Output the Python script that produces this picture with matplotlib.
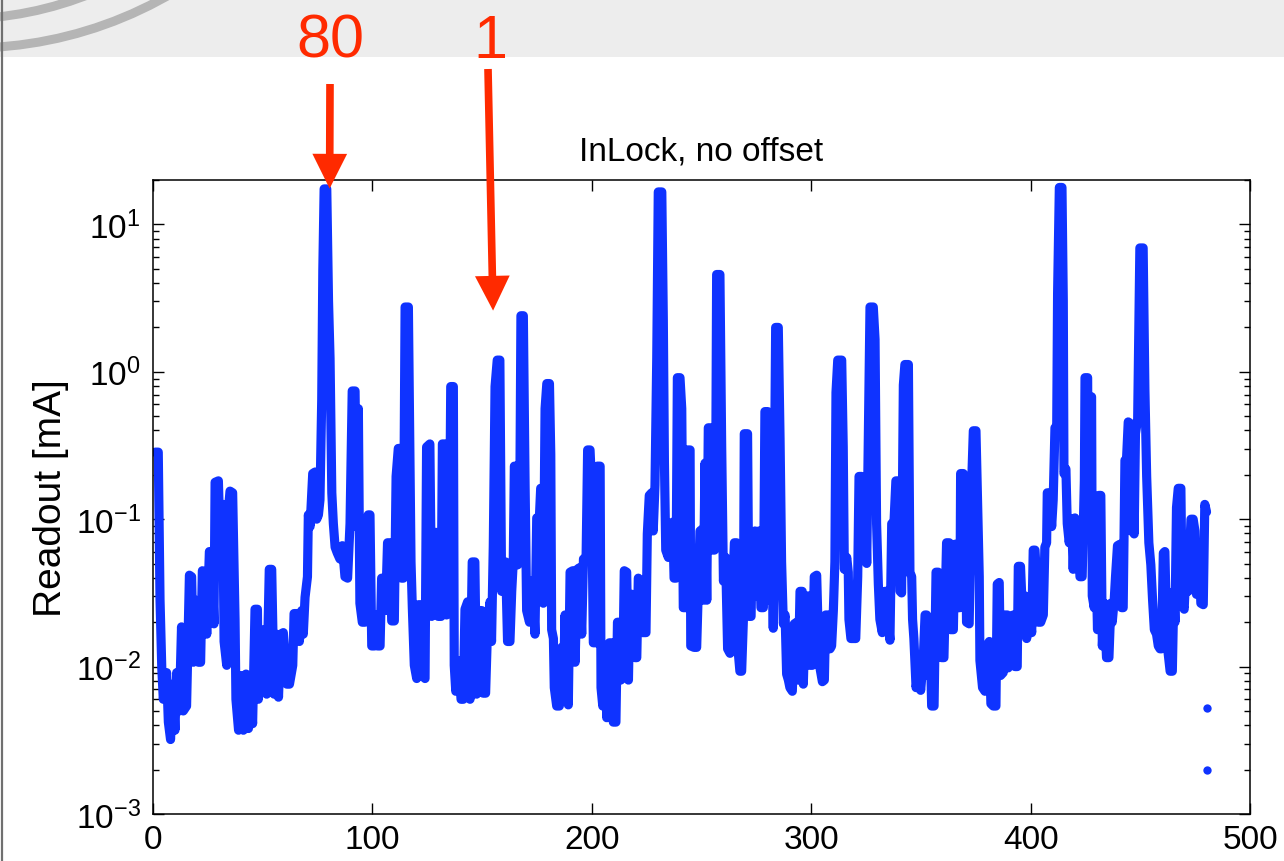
import numpy as np
import matplotlib
matplotlib.use('Agg')
import matplotlib.pyplot as plt
from matplotlib.patches import Circle

plt.rcParams['font.family'] = ['Liberation Sans', 'DejaVu Sans']
plt.rcParams['mathtext.fontset'] = 'custom'
plt.rcParams['mathtext.rm'] = 'Liberation Sans'
plt.rcParams['mathtext.default'] = 'regular'

# readout trace, (bin, readout in mA), split in chunks
trace_a = [(1.0, 0.285), (2.4, 0.285), (3.2, 0.0285), (4.0, 0.0098), (4.7, 0.0060), (6.2, 0.0091),
           (7.0, 0.0042), (8.0, 0.0032), (9.0, 0.0076), (10.0, 0.0037), (10.8, 0.0091), (12.0, 0.0050),
           (13.0, 0.0186), (13.8, 0.0050), (15.3, 0.0054), (16.6, 0.0417), (17.6, 0.0407), (18.4, 0.0107),
           (19.6, 0.0282), (20.7, 0.0107), (21.7, 0.0107), (22.5, 0.0447), (23.4, 0.0437), (24.5, 0.0166),
           (25.7, 0.0603), (26.7, 0.0603), (27.8, 0.0195), (28.3, 0.178), (29.8, 0.182), (30.5, 0.0759),
           (31.8, 0.126), (32.4, 0.0148), (33.6, 0.0102), (34.3, 0.112), (35.1, 0.155), (36.3, 0.151),
           (37.4, 0.0209), (37.8, 0.0060), (39.0, 0.0037), (40.0, 0.0087), (41.2, 0.0037), (42.4, 0.0089),
           (43.5, 0.0038), (44.2, 0.0074), (45.4, 0.0041), (46.5, 0.0245), (47.6, 0.0245), (48.0, 0.0060),
           (49.2, 0.0178), (50.3, 0.0072), (51.0, 0.0178), (51.8, 0.0065), (53.0, 0.0457), (54.1, 0.0457),
           (55.2, 0.0065), (56.1, 0.0166), (57.2, 0.0062), (58.2, 0.0166), (59.4, 0.0170), (61.0, 0.0076),
           (62.2, 0.0076), (63.7, 0.0102), (64.3, 0.0229), (65.8, 0.0229), (66.7, 0.0148), (67.8, 0.0240),
           (68.5, 0.0166), (69.3, 0.0295), (70.4, 0.0407), (70.8, 0.107), (71.6, 0.0891), (72.8, 0.204),
           (73.9, 0.209), (74.6, 0.100), (75.4, 0.107), (76.1, 0.135), (76.9, 0.646), (77.4, 4.90),
           (78.0, 17.4), (79.2, 17.4), (80.0, 3.02), (80.7, 1.23), (81.5, 0.151), (82.2, 0.0933),
           (83.0, 0.0646), (84.0, 0.0589)]

trace_b = [(85.2, 0.0537), (86.3, 0.0661), (87.5, 0.0407), (88.7, 0.0398), (89.8, 0.0933), (90.8, 0.741),
           (92.1, 0.741), (92.8, 0.0891), (93.6, 0.562), (94.3, 0.0269), (95.4, 0.0200), (96.6, 0.0200),
           (98.1, 0.107), (98.9, 0.107), (99.7, 0.0138), (100.9, 0.0138), (101.5, 0.0224), (102.4, 0.0138),
           (103.5, 0.0138), (104.2, 0.0398), (105.4, 0.0398), (106.0, 0.0240), (106.9, 0.0692), (108.0, 0.0692),
           (108.8, 0.0204), (110.0, 0.0204), (110.8, 0.195), (111.8, 0.302), (112.6, 0.302), (113.3, 0.0398),
           (114.1, 0.0398), (114.9, 2.75), (116.4, 2.75), (117.6, 0.0513), (118.2, 0.0251), (119.1, 0.0102),
           (120.2, 0.0083), (121.0, 0.0263), (122.1, 0.0263), (122.8, 0.0087), (124.0, 0.0083), (124.7, 0.309),
           (126.2, 0.324), (127.0, 0.0219), (127.8, 0.0813), (129.3, 0.0813), (130.0, 0.0219), (131.3, 0.0219),
           (131.9, 0.324), (133.1, 0.324), (133.8, 0.0224), (134.9, 0.0234), (135.7, 0.794), (136.9, 0.794),
           (137.3, 0.0102), (138.0, 0.0068), (139.2, 0.0110), (140.4, 0.0060), (141.4, 0.0060), (142.2, 0.0245),
           (143.4, 0.0275), (144.5, 0.0060), (145.5, 0.0513), (146.7, 0.0513), (147.5, 0.0065), (148.6, 0.0240),
           (149.8, 0.0240), (150.5, 0.0066), (151.6, 0.0066), (152.5, 0.0186), (153.6, 0.0275), (154.3, 0.0148),
           (155.1, 0.0661), (155.9, 0.794), (156.9, 1.20), (158.1, 1.20), (158.9, 0.0324), (159.7, 0.0513),
           (160.7, 0.0513), (161.6, 0.0148), (162.7, 0.0148), (163.5, 0.0324), (164.2, 0.0513), (164.7, 0.229),
           (165.4, 0.229), (166.2, 0.0490), (167.0, 0.0513), (167.7, 2.40), (168.8, 2.40)]

trace_c = [(169.6, 0.170), (170.3, 0.0240), (171.6, 0.0200), (172.6, 0.0380), (173.4, 0.0282), (174.1, 0.0166),
           (174.9, 0.102), (176.1, 0.102), (176.7, 0.162), (177.6, 0.162), (177.9, 0.0269), (178.7, 0.562),
           (179.5, 0.832), (180.7, 0.832), (181.3, 0.275), (181.7, 0.0178), (182.5, 0.0155), (182.9, 0.0072),
           (184.0, 0.0054), (185.2, 0.0054), (186.3, 0.0135), (187.0, 0.0068), (187.8, 0.0224), (188.6, 0.0068),
           (189.3, 0.0055), (190.1, 0.0437), (191.3, 0.0447), (192.4, 0.0107), (193.4, 0.0457), (194.3, 0.0468),
           (195.4, 0.0166), (196.2, 0.0537), (197.4, 0.0550), (198.1, 0.295), (199.2, 0.295), (199.9, 0.170),
           (200.7, 0.0145), (201.9, 0.0145), (202.5, 0.229), (203.8, 0.229), (204.2, 0.0072), (205.0, 0.0054),
           (206.0, 0.0138), (206.8, 0.0045), (208.0, 0.0145), (209.1, 0.0145), (209.8, 0.0042), (211.0, 0.0042),
           (211.7, 0.0200), (212.6, 0.0200), (213.2, 0.0081), (214.1, 0.0087), (214.8, 0.0447), (215.9, 0.0437),
           (216.7, 0.0081), (217.4, 0.0309), (218.6, 0.0309), (219.7, 0.0115), (220.5, 0.0115), (221.2, 0.0398),
           (222.4, 0.0380), (223.1, 0.0170), (224.7, 0.0170), (225.3, 0.0794), (226.2, 0.145), (227.3, 0.151),
           (228.0, 0.0832), (228.8, 0.170), (229.6, 1.23), (230.3, 16.6), (231.9, 16.6), (232.6, 2.24),
           (233.1, 0.245), (233.7, 0.0617), (234.9, 0.0550), (236.0, 0.0933), (236.9, 0.0955), (237.5, 0.0398),
           (238.4, 0.0398), (239.0, 0.912), (240.2, 0.912), (241.0, 0.562), (241.7, 0.0251), (242.8, 0.0251),
           (243.2, 0.295), (244.8, 0.295), (245.1, 0.0138), (246.6, 0.0135), (247.8, 0.0135), (248.6, 0.0363),
           (249.3, 0.0832), (250.2, 0.0851), (250.8, 0.0282), (251.6, 0.240), (252.4, 0.0282), (253.1, 0.417)]

trace_d = [(254.3, 0.417), (255.0, 0.0617), (255.9, 0.0617), (256.5, 0.229), (256.9, 4.57), (258.4, 4.57),
           (259.2, 0.309), (260.0, 0.0380), (261.0, 0.0550), (261.9, 0.0132), (263.0, 0.0123), (263.8, 0.0240),
           (265.0, 0.0692), (266.0, 0.0692), (266.8, 0.0123), (267.5, 0.0093), (268.3, 0.0093), (269.1, 0.0209),
           (269.5, 0.380), (271.0, 0.380), (271.6, 0.0219), (272.6, 0.0219), (273.2, 0.0813), (274.4, 0.0832),
           (275.1, 0.0302), (276.2, 0.0832), (277.1, 0.0251), (278.2, 0.0251), (278.9, 0.537), (280.2, 0.537),
           (280.8, 0.0282), (281.7, 0.269), (282.7, 0.0182), (283.8, 2.00), (285.0, 2.00), (285.8, 0.355),
           (286.5, 0.0513), (287.3, 0.0195), (288.1, 0.0224), (288.8, 0.0089), (289.6, 0.0081), (290.3, 0.0072),
           (291.4, 0.0068), (292.3, 0.0195), (293.4, 0.0200), (294.1, 0.0081), (294.9, 0.0324), (295.9, 0.0324),
           (296.4, 0.0076), (297.5, 0.0282), (298.7, 0.0302), (299.4, 0.0102), (300.5, 0.0102), (301.4, 0.0407),
           (302.5, 0.0417), (303.2, 0.0166), (304.0, 0.0098), (305.1, 0.0079), (306.0, 0.0081), (306.6, 0.0224),
           (307.8, 0.0224), (308.6, 0.0132), (309.3, 0.0138), (310.1, 0.0240), (310.8, 0.0513), (311.3, 0.724),
           (312.1, 1.20), (313.9, 1.20), (314.6, 0.309), (315.1, 0.0457), (316.2, 0.0550), (316.9, 0.0437),
           (317.2, 0.0209), (318.1, 0.0155), (319.2, 0.0155), (320.3, 0.0155), (321.2, 0.0407), (321.8, 0.195),
           (323.0, 0.195), (323.8, 0.0933), (324.5, 0.166), (325.3, 0.0501), (326.0, 0.309), (326.8, 2.75),
           (328.3, 2.75), (329.1, 1.66), (329.8, 0.0933), (330.6, 0.0363), (331.3, 0.0209), (332.4, 0.0170),
           (333.6, 0.0324), (334.4, 0.0324), (335.1, 0.0200), (335.9, 0.0151)]

trace_e = [(336.7, 0.0933), (337.7, 0.0933), (338.6, 0.182), (339.7, 0.182), (340.5, 0.0324), (341.2, 0.0316),
           (342.0, 0.813), (342.7, 1.12), (344.3, 1.12), (345.0, 0.0437), (345.8, 0.0407), (346.2, 0.0209),
           (346.8, 0.0155), (347.8, 0.0072), (348.8, 0.0091), (349.9, 0.0069), (351.1, 0.0115), (351.9, 0.0224),
           (352.6, 0.0224), (353.4, 0.0087), (354.1, 0.0182), (354.9, 0.0054), (356.0, 0.0054), (356.9, 0.0437),
           (357.9, 0.0437), (358.7, 0.0324), (359.4, 0.0115), (360.5, 0.0115), (361.7, 0.0692), (362.9, 0.0692),
           (363.5, 0.0178), (364.8, 0.0178), (365.5, 0.0676), (366.6, 0.0676), (367.0, 0.0251), (367.8, 0.0251),
           (368.1, 0.204), (369.3, 0.204), (370.1, 0.170), (370.8, 0.0200), (372.0, 0.0195), (373.1, 0.170),
           (373.9, 0.398), (375.1, 0.398), (375.7, 0.162), (376.6, 0.0407), (376.9, 0.0110), (378.1, 0.0072),
           (379.2, 0.0068), (379.9, 0.0138), (381.2, 0.0148), (381.9, 0.0056), (383.0, 0.0054), (384.2, 0.0054),
           (384.8, 0.0363), (385.7, 0.0372), (386.3, 0.0087), (387.5, 0.0091), (388.3, 0.0224), (389.4, 0.0224),
           (389.8, 0.0098), (390.9, 0.0209), (392.1, 0.0224), (392.9, 0.0100), (393.9, 0.0100), (394.4, 0.0479),
           (395.4, 0.0479), (396.4, 0.0209), (397.4, 0.0302), (398.2, 0.0155), (399.4, 0.0251), (400.5, 0.0170),
           (401.2, 0.0617), (402.0, 0.0617), (402.7, 0.0398), (403.5, 0.0200), (404.6, 0.0200), (405.8, 0.0224),
           (406.5, 0.0646), (407.3, 0.0692), (407.6, 0.151), (408.8, 0.151), (409.6, 0.0891), (410.3, 0.135),
           (411.1, 0.417), (411.9, 0.417), (412.3, 3.39), (413.1, 17.8), (414.3, 17.8), (414.9, 3.02),
           (415.2, 0.204), (416.1, 0.219), (416.7, 0.0933), (417.6, 0.0692), (418.7, 0.100), (419.4, 0.0457),
           (420.2, 0.102)]

trace_f = [(421.0, 0.0490), (421.7, 0.0832), (422.5, 0.0407), (423.5, 0.0407), (424.5, 0.182), (424.8, 0.912),
           (426.0, 0.912), (426.3, 0.0741), (427.0, 0.676), (427.8, 0.676), (428.1, 0.0302), (429.0, 0.0251),
           (429.6, 0.0661), (430.5, 0.0178), (431.1, 0.145), (432.0, 0.145), (432.7, 0.0138), (433.6, 0.0269),
           (434.6, 0.0115), (435.7, 0.0115), (436.6, 0.0269), (437.2, 0.0200), (438.1, 0.0282), (438.7, 0.0407),
           (439.6, 0.0661), (440.7, 0.0676), (441.5, 0.0251), (442.2, 0.0251), (443.0, 0.251), (443.7, 0.251),
           (444.5, 0.457), (445.3, 0.447), (445.7, 0.0832), (446.3, 0.398), (447.2, 0.0794), (447.8, 0.380),
           (448.8, 0.479), (449.8, 6.92), (451.3, 6.92), (452.1, 0.759), (452.9, 0.195), (453.9, 0.0692),
           (454.8, 0.0490), (455.6, 0.0282), (456.4, 0.0178), (457.4, 0.0166), (458.2, 0.0138), (459.0, 0.0132),
           (459.7, 0.0132), (460.5, 0.0589), (461.2, 0.0603), (462.0, 0.0178), (462.7, 0.0123), (463.6, 0.0093),
           (464.6, 0.0093), (465.3, 0.0324), (465.8, 0.0200), (466.5, 0.120), (467.3, 0.162), (468.5, 0.162),
           (469.1, 0.0269), (470.0, 0.0245), (471.1, 0.0589), (471.8, 0.0324), (473.1, 0.100), (474.1, 0.100),
           (474.9, 0.0832), (475.6, 0.0309), (476.7, 0.0617), (477.6, 0.0269), (478.7, 0.0263), (479.4, 0.126),
           (480.2, 0.112)]

# two lone samples below the trace at the last bin
lone_x = [480.2, 480.2]
lone_y = [0.0052, 0.0020]

labels_top = ['80', '1']

blue = '#0f33ff'
red = '#ff2a00'

trace = trace_a + trace_b + trace_c + trace_d + trace_e + trace_f
xs = np.array([p[0] for p in trace])
ys = np.array([p[1] for p in trace])

W, H = 1284, 862
fig = plt.figure(figsize=(W / 100, H / 100), dpi=100)

# slide background: grey header band, swoosh, left edge line
bg = fig.add_axes([0, 0, 1, 1], zorder=-5)
bg.set_xlim(0, W)
bg.set_ylim(H, 0)
bg.axis('off')
bg.axhspan(0, 58, color='#ededed', lw=0)
bg.add_patch(Circle((-30, -351), 400, fill=False, ec='#b5b5b5', lw=6.5))
bg.add_patch(Circle((-40, -330), 350, fill=False, ec='#b5b5b5', lw=6.5))
bg.axvline(1.5, color='#707070', lw=1.6)

ax = fig.add_axes([153 / W, 1 - 815 / H, (1250 - 153) / W, (815 - 181) / H])
ax.plot(xs, ys, color=blue, lw=6.6, solid_capstyle='round', solid_joinstyle='round')
ax.plot(lone_x, lone_y, 'o', color=blue, ms=6, mec='none')
ax.set_yscale('log')
ax.set_xlim(0, 500)
ax.set_ylim(1e-3, 20)
ax.set_xticks(np.arange(0, 501, 100))
ax.tick_params(which='both', direction='in', top=True, right=True, labelsize=24, width=1.0)
ax.tick_params(which='major', length=8)
ax.tick_params(which='minor', length=4.5)
ax.tick_params(axis='x', pad=7)
ax.tick_params(axis='y', pad=9)
for s in ax.spines.values():
    s.set_linewidth(1.1)
ax.set_title('InLock, no offset', fontsize=24, pad=15)
ax.set_ylabel('Readout [mA]', fontsize=28, labelpad=5)

# red markers pointing at the two peaks
ax.annotate('', xy=(80.5, 17.5), xycoords='data', xytext=(330, H - 85), textcoords='figure pixels',
            arrowprops=dict(arrowstyle='simple,head_length=25,head_width=25,tail_width=5.5',
                            mutation_scale=1, fc=red, ec='none', shrinkA=0, shrinkB=0),
            annotation_clip=False)
ax.annotate('', xy=(155.0, 2.6), xycoords='data', xytext=(488, H - 70), textcoords='figure pixels',
            arrowprops=dict(arrowstyle='simple,head_length=25,head_width=25,tail_width=5.5',
                            mutation_scale=1, fc=red, ec='none', shrinkA=0, shrinkB=0),
            annotation_clip=False)
fig.text(330 / W, 1 - 58 / H, labels_top[0], color=red, fontsize=44, ha='center', va='baseline')
fig.text(490 / W, 1 - 58 / H, labels_top[1], color=red, fontsize=44, ha='center', va='baseline')

fig.savefig('out.png', dpi=100)
